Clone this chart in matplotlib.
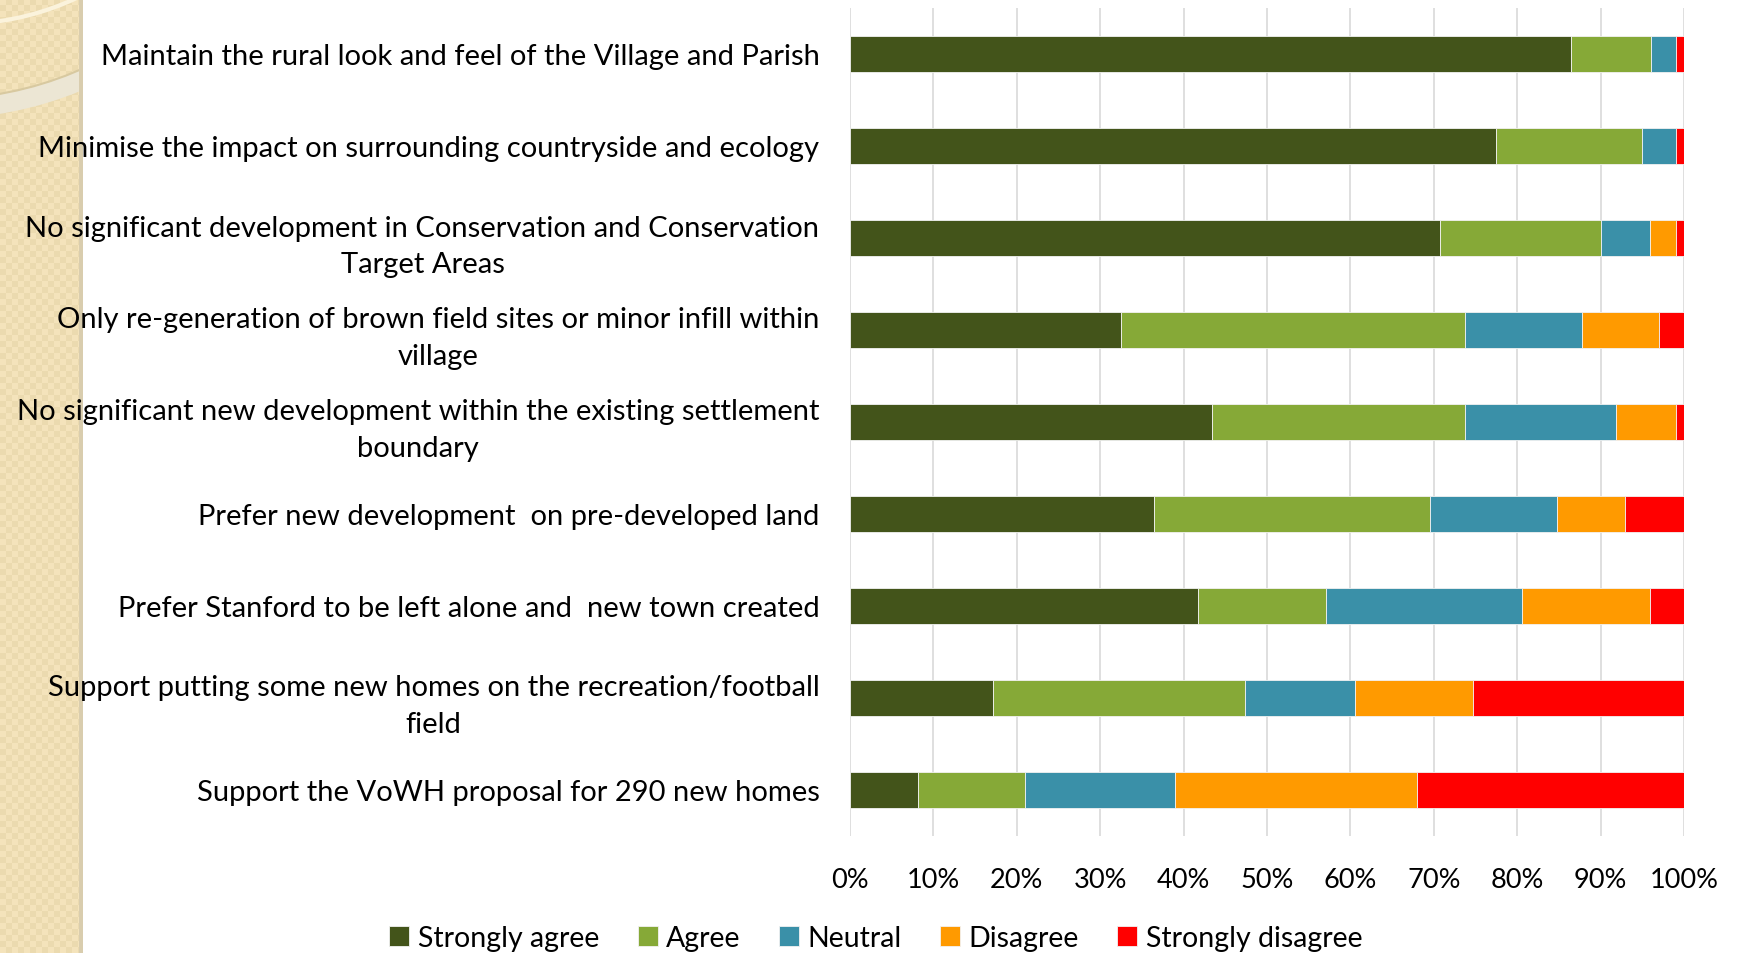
import numpy as np
import matplotlib
matplotlib.use("Agg")
import matplotlib.pyplot as plt
from matplotlib.patches import Rectangle, Circle

categories = [
    "Maintain the rural look and feel of the Village and Parish",
    "Minimise the impact on surrounding countryside and ecology",
    "No significant development in Conservation and Conservation\nTarget Areas",
    "Only re-generation of brown field sites or minor infill within\nvillage",
    "No significant new development within the existing settlement\nboundary",
    "Prefer new development  on pre-developed land",
    "Prefer Stanford to be left alone and  new town created",
    "Support putting some new homes on the recreation/football\nfield",
    "Support the VoWH proposal for 290 new homes",
]
series_names = ["Strongly agree", "Agree", "Neutral", "Disagree", "Strongly disagree"]
strongly_agree = [86.4, 77.4, 70.7, 32.5, 43.4, 36.4, 41.7, 17.1, 8.1]
agree = [9.6, 17.6, 19.3, 41.2, 30.3, 33.2, 15.4, 30.3, 12.9]
neutral = [3.0, 4.0, 5.9, 14.1, 18.2, 15.2, 23.5, 13.1, 18.0]
disagree = [0.0, 0.0, 3.1, 9.2, 7.1, 8.1, 15.3, 14.2, 29.0]
strongly_disagree = [1.0, 1.0, 1.0, 3.0, 1.0, 7.1, 4.1, 25.3, 32.0]
x_ticks = [0, 10, 20, 30, 40, 50, 60, 70, 80, 90, 100]
x_tick_labels = ["0%", "10%", "20%", "30%", "40%", "50%", "60%", "70%", "80%", "90%", "100%"]

colors = ["#43541A", "#86A937", "#3A90A8", "#FF9A00", "#FF0000"]

plt.rcParams['font.family'] = ['Lato', 'DejaVu Sans']

W, H = 1738, 954
fig = plt.figure(figsize=(W / 100, H / 100), dpi=100)
fig.patch.set_facecolor("white")

# decorative left strip
sx = fig.add_axes([0, 0, 83 / W, 1])
sx.set_xlim(0, 83)
sx.set_ylim(954, 0)
sx.axis("off")
yy, xx = np.mgrid[0:954, 0:83]
pat = ((xx // 6 + yy // 6) % 2).astype(float)
base = np.array([0.957, 0.894, 0.737])
alt = np.array([0.925, 0.855, 0.690])
img = base[None, None, :] * (1 - pat[..., None]) + alt[None, None, :] * pat[..., None]
sx.imshow(img, extent=(0, 83, 954, 0), aspect="auto", interpolation="nearest")
c1 = Circle((-40, -250), 275, fill=False, ec="#FBF3DC", lw=3, clip_on=True)
sx.add_patch(c1)
c2 = Circle((-60, -250), 360, fill=False, ec="#ECE6D4", lw=14, clip_on=True)
sx.add_patch(c2)
c3 = Circle((-60, -250), 350, fill=False, ec="#D8C9A0", lw=1.5, clip_on=True)
sx.add_patch(c3)
sx.add_patch(Rectangle((79, 0), 4, 954, color="#D9CDAE", lw=0))

ax = fig.add_axes([850 / W, 1 - 837 / H, (1684 - 850) / W, (837 - 9) / H])
n = len(categories)
y = np.arange(n)
left = np.zeros(n)
for vals, name, col in zip([strongly_agree, agree, neutral, disagree, strongly_disagree],
                           series_names, colors):
    v = np.array(vals)
    ax.barh(y, v, left=left, height=0.4, color=col, label=name,
            edgecolor="#F2F2F2", linewidth=0.6, zorder=3)
    left += v

ax.set_xlim(0, 100)
ax.set_ylim(n - 0.5, -0.5)
ax.set_xticks(x_ticks)
ax.set_xticklabels(x_tick_labels, fontsize=19.5)
ax.set_yticks(y)
ax.set_yticklabels(categories, fontsize=21, multialignment="center", linespacing=1.5)
ax.tick_params(axis="both", length=0)
ax.tick_params(axis="y", pad=22)
ax.tick_params(axis="x", pad=22)
for s in ax.spines.values():
    s.set_visible(False)
ax.xaxis.grid(True, color="#D9D9D9", linewidth=1.2, zorder=0)
ax.set_axisbelow(True)

handles, labels = ax.get_legend_handles_labels()
fig.legend(handles, labels, loc="center", bbox_to_anchor=(0.504, 1 - 939 / H), ncol=5,
           frameon=False, fontsize=20.5, handlelength=0.7, handleheight=0.7,
           handletextpad=0.3, columnspacing=1.35)

fig.savefig("out.png", dpi=100)
